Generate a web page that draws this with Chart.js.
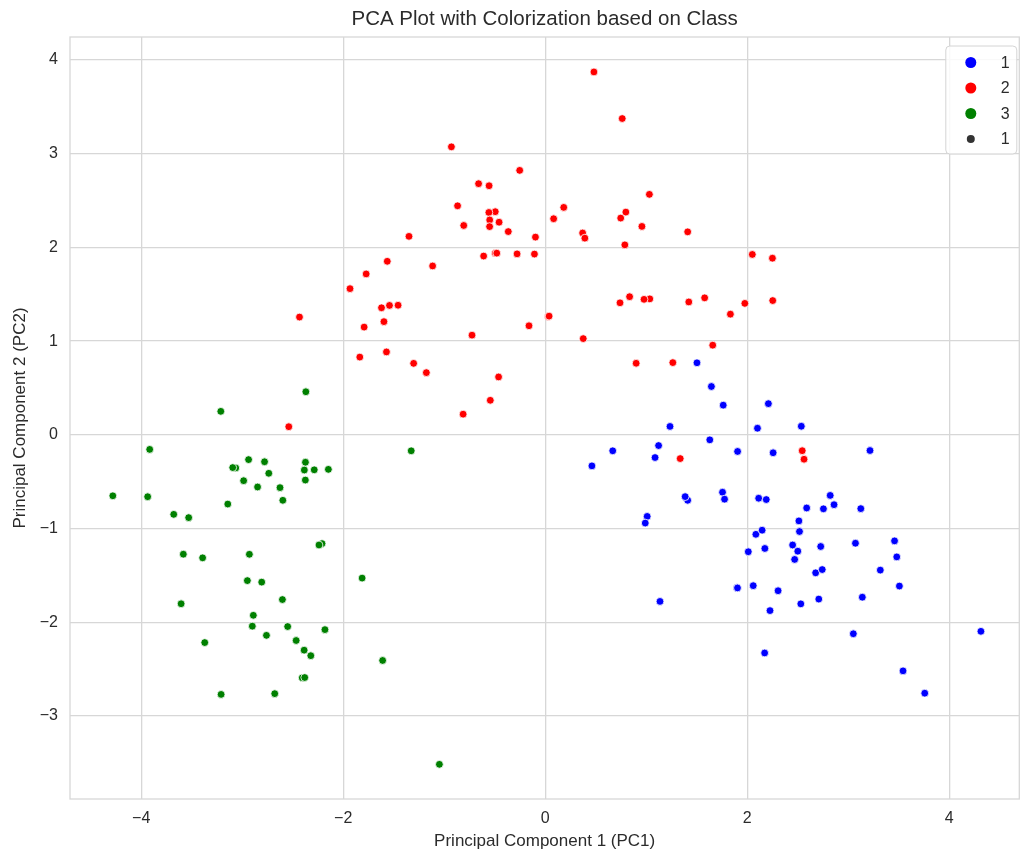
<!DOCTYPE html>
<html>
<head>
  <title>PCA Plot with Colorization based on Class</title>
  <script src="https://cdn.jsdelivr.net/npm/chart.js"></script>
  <style>
    body { margin: 0; background: #fff; }
    .chart-container { width: 1024px; height: 854px; }
  </style>
</head>
<body>
  <div class="chart-container">
    <canvas id="pcaChart"></canvas>
  </div>
  <script>
    // PC scores per class
    const class1PC1 = [3.317, 2.209, 2.517, 3.757, 1.009, 3.050, 2.449, 2.059, 2.511, 2.754, 3.480, 1.755, 2.113, 3.458, 4.313, 2.305, 2.172, 1.899, 3.542, 2.085, 3.124, 1.087, 2.535, 1.645, 1.762, 0.990, 1.775, 1.235, 2.188, 2.256, 2.500, 2.677, 1.629, 1.903, 1.410, 1.904, 1.385, 1.122, 1.502, 2.530, 2.588, 0.668, 3.071, 0.462, 2.101, 1.136, 2.727, 2.821, 2.010, 2.708, 3.215, 2.859, 3.506, 2.225, 2.147, 2.469, 2.742, 2.174, 3.139];
    const class1PC2 = [-1.443, 0.333, -1.031, -2.756, -0.870, -2.122, -1.175, -1.609, -0.918, -0.789, -1.302, -0.612, -0.676, -1.131, -2.096, -1.663, -2.327, -1.631, -2.518, -1.061, -0.787, -0.242, 0.092, 0.516, 0.317, -0.941, -0.686, 0.090, -0.690, -0.191, -1.241, -1.472, -0.053, -1.633, -0.698, -0.177, -0.659, -0.114, 0.769, -1.803, -0.780, -0.170, -1.156, -0.331, 0.071, -1.777, -1.191, -0.646, -1.247, -1.752, -0.167, -0.745, -1.613, -1.875, -1.017, -1.329, -1.437, -1.212, -1.732];

    const class2PC1 = [-0.929, -1.542, -1.836, 0.031, 2.050, -0.610, 0.900, 2.249, 0.183, -0.813, 1.976, -1.572, 1.658, -0.725, 2.562, 1.833, -0.868, 0.370, -1.457, 1.263, 0.376, 0.762, 1.035, -0.495, -2.539, 0.835, 0.788, -0.807, -0.558, -1.115, -0.556, -1.349, -1.564, -1.933, 0.747, 0.957, 2.544, -0.544, 1.031, 2.252, 1.410, 0.798, -0.550, -0.161, -0.660, 0.392, -1.773, -0.366, -1.621, 0.083, 1.578, 1.421, -0.279, -1.303, -0.457, -0.494, 0.482, -0.253, -0.107, -2.433, -0.551, 0.740, 1.336, -1.177, -0.462, 0.978, -0.097, 0.038, -1.597, -0.480, -1.793];
    const class2PC2 = [3.073, 1.381, 0.830, 1.263, 1.925, 1.908, 0.764, 1.885, 2.427, 0.221, 1.403, 0.885, 0.957, 1.064, -0.260, 1.288, 2.444, 2.154, 1.383, 0.771, 1.027, 3.375, 1.451, 2.381, 0.087, 1.474, 2.027, 2.234, 2.373, 1.802, 2.658, 2.118, 1.852, 1.560, 2.313, 2.224, -0.169, 0.369, 2.566, 1.433, 2.166, 2.377, 2.293, 1.164, 2.680, 2.099, 1.717, 2.169, 1.356, 2.306, 1.462, 1.418, 1.931, 0.763, 2.269, 1.939, 3.872, 2.822, 1.929, 1.257, 2.222, 1.409, -0.253, 0.664, 0.618, 1.446, 2.110, 1.267, 1.208, 1.939, 1.150];

    const class3PC1 = [-1.327, -2.385, -2.937, -2.147, -2.370, -3.064, -3.916, -3.936, -3.094, -2.374, -2.779, -2.287, -2.986, -2.375, -2.210, -2.626, -4.281, -3.583, -2.807, -2.900, -2.321, -2.550, -1.813, -2.760, -2.737, -3.605, -2.890, -3.392, -1.048, -1.610, -3.143, -2.240, -2.848, -2.598, -2.949, -3.530, -2.406, -2.929, -2.181, -2.381, -3.212, -3.678, -2.466, -3.371, -2.602, -2.678, -2.387, -3.209];
    const class3PC2 = [-0.170, -0.375, -0.264, -0.368, 0.460, -0.353, -0.155, -0.660, -0.349, -0.292, -0.287, -0.373, -0.489, -0.482, -1.160, -0.563, -0.650, -1.273, -1.571, -2.041, -2.356, -2.045, -1.528, -2.139, -0.410, -1.802, -1.925, -1.312, -3.515, -2.407, -0.738, -1.175, -0.556, -0.698, -1.555, -0.883, -2.592, -1.274, -2.078, -2.589, 0.251, -0.848, -2.194, -2.216, -1.757, -2.761, -2.297, -2.769];

    const classLabels = ['1', '2', '3'];
    const classColors = ['#0000ff', '#ff0000', '#008000'];
    const sizeLabel = '1';
    const chartTitle = 'PCA Plot with Colorization based on Class';

    const textColor = '#2b2b2b';
    const gridColor = '#d7d7d7';
    const fontFamily = '"Liberation Sans", Arial, sans-serif';
    const minus = v => String(v).replace('-', '\u2212');

    const toPoints = (xs, ys) => xs.map((x, i) => ({ x: x, y: ys[i] }));
    const classPoints = [
      toPoints(class1PC1, class1PC2),
      toPoints(class2PC1, class2PC2),
      toPoints(class3PC1, class3PC2)
    ];

    // box around the plotting area
    const framePlugin = {
      id: 'frame',
      beforeDatasetsDraw(chart) {
        const { ctx, chartArea: a } = chart;
        ctx.save();
        ctx.strokeStyle = gridColor;
        ctx.lineWidth = 1.3;
        ctx.strokeRect(a.left, a.top, a.right - a.left, a.bottom - a.top);
        ctx.restore();
      }
    };

    // title centred over the plotting area, not the whole canvas
    const areaTitle = {
      id: 'areaTitle',
      afterDraw(chart) {
        const { ctx, chartArea: a } = chart;
        ctx.save();
        ctx.font = '20.5px ' + fontFamily;
        ctx.fillStyle = textColor;
        ctx.textAlign = 'center';
        ctx.textBaseline = 'middle';
        ctx.fillText(chartTitle, (a.left + a.right) / 2, 19.5);
        ctx.restore();
      }
    };

    // legend drawn inside the upper right corner
    const innerLegend = {
      id: 'innerLegend',
      afterDraw(chart) {
        const { ctx, chartArea: a } = chart;
        const boxW = 71, boxH = 108;
        const x0 = a.right - 73.5, y0 = a.top + 9;
        ctx.save();
        ctx.beginPath();
        ctx.roundRect(x0, y0, boxW, boxH, 4);
        ctx.fillStyle = 'rgba(255,255,255,0.85)';
        ctx.fill();
        ctx.strokeStyle = '#d4d4d4';
        ctx.lineWidth = 1;
        ctx.stroke();

        const entries = classLabels.map((l, i) => ({ label: l, color: classColors[i], r: 5.5 }));
        entries.push({ label: sizeLabel, color: '#333333', r: 4 });
        ctx.font = '16px ' + fontFamily;
        ctx.textBaseline = 'middle';
        ctx.textAlign = 'left';
        entries.forEach((e, i) => {
          const cy = y0 + 16.5 + i * 25.5;
          ctx.beginPath();
          ctx.arc(x0 + 25, cy, e.r, 0, Math.PI * 2);
          ctx.fillStyle = e.color;
          ctx.fill();
          ctx.fillStyle = textColor;
          ctx.fillText(e.label, x0 + 55, cy + 1);
        });
        ctx.restore();
      }
    };

    new Chart(document.getElementById('pcaChart'), {
      type: 'scatter',
      data: {
        datasets: classPoints.map((pts, i) => ({
          label: classLabels[i],
          data: pts,
          backgroundColor: classColors[i],
          borderColor: '#ffffff',
          borderWidth: 0.8,
          pointRadius: 3.9,
          pointHoverRadius: 3.9,
          order: 3 - i
        }))
      },
      options: {
        responsive: true,
        maintainAspectRatio: false,
        animation: false,
        layout: { padding: { left: 0, right: 2, top: 37, bottom: 0 } },
        plugins: {
          legend: { display: false },
          tooltip: { enabled: false },
          title: { display: false }
        },
        scales: {
          x: {
            type: 'linear',
            min: -4.705,
            max: 4.693,
            afterFit: s => { s.height = 55; },
            border: { display: false },
            grid: { color: gridColor, lineWidth: 1.3, drawTicks: false },
            ticks: {
              stepSize: 2,
              includeBounds: false,
              padding: 10,
              color: textColor,
              font: { family: fontFamily, size: 16 },
              callback: minus
            },
            title: {
              display: true,
              text: 'Principal Component 1 (PC1)',
              color: textColor,
              font: { family: fontFamily, size: 17 },
              padding: { top: 0, bottom: 2 }
            }
          },
          y: {
            type: 'linear',
            min: -3.885,
            max: 4.245,
            afterFit: s => { s.width = 70; },
            border: { display: false },
            grid: { color: gridColor, lineWidth: 1.3, drawTicks: false },
            ticks: {
              stepSize: 1,
              includeBounds: false,
              padding: 12,
              color: textColor,
              font: { family: fontFamily, size: 16 },
              callback: minus
            },
            title: {
              display: true,
              text: 'Principal Component 2 (PC2)',
              color: textColor,
              font: { family: fontFamily, size: 17 },
              padding: { top: 10, bottom: 0 }
            }
          }
        }
      },
      plugins: [framePlugin, areaTitle, innerLegend]
    });
  </script>
</body>
</html>
